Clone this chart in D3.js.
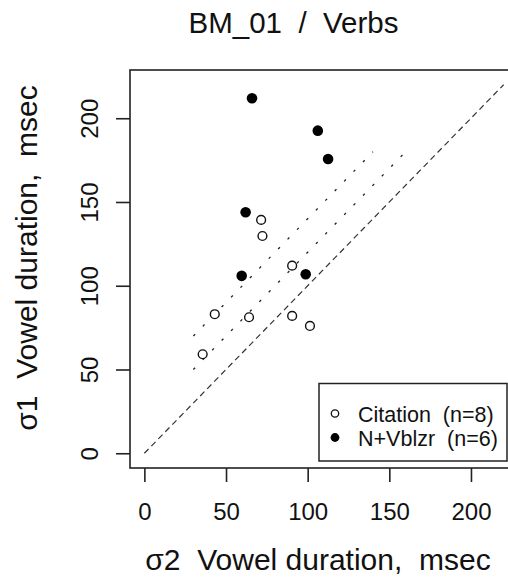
<!DOCTYPE html>
<html>
<head>
<meta charset="utf-8">
<script src="https://cdn.jsdelivr.net/npm/d3@7"></script>
<style>
  body { margin: 0; background: #fff; }
  text { font-family: "Liberation Sans", Arial, sans-serif; fill: #111; white-space: pre; }
</style>
</head>
<body>
<div id="chart"></div>
<script>
// Citation tokens (open circles)
var citationX = [71.5, 72.3, 90.5, 43.1, 64.1, 90.5, 101.4, 35.7];
var citationY = [139.3, 129.7, 112.0, 83.0, 81.2, 82.0, 76.0, 59.1];
// N+Vblzr tokens (filled circles)
var vblzrX = [65.9, 106.2, 112.5, 62.0, 59.6, 98.8];
var vblzrY = [211.9, 192.6, 175.7, 143.9, 105.9, 106.9];

var ticks = [0, 50, 100, 150, 200];
// reference lines: identity (dashed) and +20 / +40 msec offsets (dotted)
var identityLine = [[0, 0], [220, 220]];
var offsetLines = [[[30, 70], [140, 180]], [[30, 50], [160, 180]]];

var titleText = "BM_01  /  Verbs";
var xLabel = "σ2  Vowel duration,  msec";
var yLabel = "σ1  Vowel duration,  msec";
var legendLabels = ["Citation  (n=8)", "N+Vblzr  (n=6)"];

var width = 508, height = 578;
var plot = {left: 130, right: 518, top: 70, bottom: 468};

var svg = d3.select("#chart").append("svg")
    .attr("width", width).attr("height", height);

var x = d3.scaleLinear().domain([-8.8, 228.8]).range([plot.left, plot.right]);
var y = d3.scaleLinear().domain([-8.8, 228.8]).range([plot.bottom, plot.top]);

svg.append("clipPath").attr("id", "clip")
    .append("rect")
    .attr("x", plot.left).attr("y", plot.top)
    .attr("width", plot.right - plot.left).attr("height", plot.bottom - plot.top);

var g = svg.append("g").attr("clip-path", "url(#clip)");

var line = d3.line().x(function (d) { return x(d[0]); }).y(function (d) { return y(d[1]); });

g.append("path").attr("d", line(identityLine))
    .attr("fill", "none").attr("stroke", "#333").attr("stroke-width", 1.2)
    .attr("stroke-dasharray", "6,4");

g.selectAll(".offset").data(offsetLines).enter().append("path")
    .attr("class", "offset")
    .attr("d", line)
    .attr("fill", "none").attr("stroke", "#222").attr("stroke-width", 1.3)
    .attr("stroke-dasharray", "2.5,11");

var citation = citationX.map(function (v, i) { return {x: v, y: citationY[i]}; });
var vblzr = vblzrX.map(function (v, i) { return {x: v, y: vblzrY[i]}; });

g.selectAll(".cit").data(citation).enter().append("circle")
    .attr("class", "cit")
    .attr("cx", function (d) { return x(d.x); })
    .attr("cy", function (d) { return y(d.y); })
    .attr("r", 4.4)
    .attr("fill", "#fff").attr("stroke", "#111").attr("stroke-width", 1.4);

g.selectAll(".vb").data(vblzr).enter().append("circle")
    .attr("class", "vb")
    .attr("cx", function (d) { return x(d.x); })
    .attr("cy", function (d) { return y(d.y); })
    .attr("r", 5.3)
    .attr("fill", "#000");

// legend (bottom right, inset)
var lg = svg.append("g");
lg.append("rect")
    .attr("x", 319).attr("y", 383.5).attr("width", 188).attr("height", 77.5)
    .attr("fill", "#fff").attr("stroke", "#222").attr("stroke-width", 1.5);
lg.append("circle").attr("cx", 335).attr("cy", 413.5).attr("r", 3.7)
    .attr("fill", "#fff").attr("stroke", "#111").attr("stroke-width", 1.3);
lg.append("circle").attr("cx", 335).attr("cy", 437.5).attr("r", 4.4)
    .attr("fill", "#000");
lg.selectAll(".lt").data(legendLabels).enter().append("text")
    .attr("class", "lt")
    .attr("x", 358)
    .attr("y", function (d, i) { return 422 + i * 23.5; })
    .attr("font-size", "21.5px")
    .text(function (d) { return d; });

// box
svg.append("rect")
    .attr("x", plot.left).attr("y", plot.top)
    .attr("width", plot.right - plot.left).attr("height", plot.bottom - plot.top)
    .attr("fill", "none").attr("stroke", "#222").attr("stroke-width", 1.6);

// axes
var xAxis = svg.append("g")
    .attr("transform", "translate(0," + plot.bottom + ")")
    .call(d3.axisBottom(x).tickValues(ticks).tickSize(14).tickSizeOuter(0));
var yAxis = svg.append("g")
    .attr("transform", "translate(" + plot.left + ",0)")
    .call(d3.axisLeft(y).tickValues(ticks).tickSize(14).tickSizeOuter(0));

[xAxis, yAxis].forEach(function (a) {
    a.select(".domain").remove();
    a.selectAll(".tick line").attr("stroke", "#222").attr("stroke-width", 1.6);
    a.selectAll(".tick text")
        .attr("font-family", "Liberation Sans, Arial, sans-serif")
        .attr("font-size", "24px").attr("fill", "#222");
});
xAxis.selectAll(".tick text").attr("dy", null).attr("y", 52);
yAxis.selectAll(".tick text")
    .attr("x", null).attr("dy", null).attr("y", null)
    .attr("text-anchor", "middle")
    .attr("transform", "translate(-32,0) rotate(-90)");

svg.append("text")
    .attr("x", 293.5).attr("y", 33)
    .attr("text-anchor", "middle").attr("font-size", "29.5px")
    .text(titleText);

svg.append("text")
    .attr("x", 318).attr("y", 570)
    .attr("text-anchor", "middle").attr("font-size", "30px")
    .text(xLabel);

svg.append("text")
    .attr("transform", "translate(37,258) rotate(-90)")
    .attr("text-anchor", "middle").attr("font-size", "30px")
    .text(yLabel);
</script>
</body>
</html>
